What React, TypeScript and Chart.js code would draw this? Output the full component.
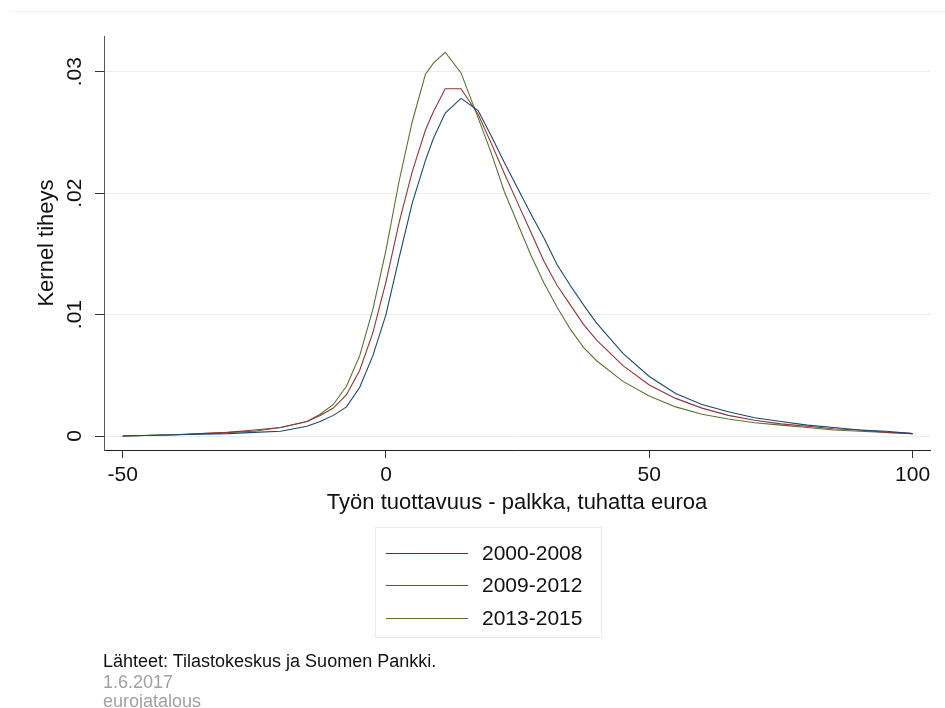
import React, { useEffect, useRef } from "react";
import { Chart, registerables } from "chart.js";

Chart.register(...registerables);

// ---- Data ----
const xValues = [
  -50, -40, -30, -25, -20, -15, -12.5, -10, -7.5, -5, -2.5, 0, 2.5, 5, 7.5, 9, 11.25, 14.25,
  17.5, 20, 22.5, 25, 27.5, 30, 32.5, 35, 37.5, 40, 45, 50, 55, 60, 65, 70, 75, 80, 85, 90, 95, 100,
];

const density2000_2008 = [
  0.0, 0.0001, 0.0002, 0.0003, 0.0004, 0.0008, 0.0012, 0.0017, 0.0024, 0.004, 0.0066, 0.01,
  0.0147, 0.0192, 0.0227, 0.0245, 0.0266, 0.0278, 0.0268, 0.0247, 0.0225, 0.0204, 0.0183,
  0.0163, 0.0141, 0.0124, 0.0108, 0.0093, 0.0068, 0.0049, 0.0035, 0.0026, 0.002, 0.0015,
  0.0012, 0.0009, 0.0007, 0.0005, 0.0004, 0.0002,
];

const density2009_2012 = [
  0.0, 0.0001, 0.0003, 0.0005, 0.0007, 0.0012, 0.0017, 0.0023, 0.0034, 0.0054, 0.0085, 0.0127,
  0.0176, 0.0218, 0.0252, 0.0267, 0.0286, 0.0286, 0.0265, 0.0241, 0.0216, 0.0192, 0.0168,
  0.0144, 0.0124, 0.0108, 0.0092, 0.0079, 0.0058, 0.0042, 0.0031, 0.0023, 0.0017, 0.0013,
  0.001, 0.0008, 0.0006, 0.0005, 0.0003, 0.0002,
];

const density2013_2015 = [
  0.0, 0.0001, 0.0003, 0.0004, 0.0007, 0.0012, 0.0018, 0.0026, 0.0041, 0.0066, 0.0104, 0.0153,
  0.021, 0.0259, 0.0298, 0.0307, 0.0316, 0.0299, 0.0262, 0.0233, 0.0201, 0.0175, 0.0149,
  0.0126, 0.0106, 0.0088, 0.0073, 0.0062, 0.0045, 0.0033, 0.0024, 0.0018, 0.0014, 0.0011,
  0.0009, 0.0007, 0.0005, 0.0004, 0.0003, 0.0002,
];

const seriesLabels = ["2000-2008", "2009-2012", "2013-2015"];
const xTickValues = [-50, 0, 50, 100];
const yTickValues = [0, 0.01, 0.02, 0.03];
const yTickLabels = ["0", ".01", ".02", ".03"];

const xTitle = "Työn tuottavuus - palkka, tuhatta euroa";
const yTitle = "Kernel tiheys";
const footerSource = "Lähteet: Tilastokeskus ja Suomen Pankki.";
const footerDate = "1.6.2017";
const footerSite = "eurojatalous";

// ---- Styles ----
const COLORS = ["#1a476f", "#90353b", "#55752f"];
const FONT = '"Liberation Sans", Arial, sans-serif';
const TEXT = "#111111";

const yLabelPlugin = {
  id: "yRotatedLabels",
  afterDraw(chart: any) {
    const ctx = chart.ctx;
    const s = chart.scales.y;
    ctx.save();
    ctx.font = `21px ${FONT}`;
    ctx.fillStyle = TEXT;
    ctx.textAlign = "center";
    ctx.textBaseline = "middle";
    yTickValues.forEach((v, i) => {
      const py = s.getPixelForValue(v);
      ctx.save();
      ctx.translate(s.right - 29, py);
      ctx.rotate(-Math.PI / 2);
      ctx.fillText(yTickLabels[i], 0, 0);
      ctx.restore();
    });
    ctx.restore();
  },
};

export default function App() {
  const canvasRef = useRef<HTMLCanvasElement | null>(null);

  useEffect(() => {
    if (!canvasRef.current) return;
    const seriesValues = [density2000_2008, density2009_2012, density2013_2015];
    const chart = new Chart(canvasRef.current, {
      type: "line",
      data: {
        datasets: seriesValues.map((vals, i) => ({
          label: seriesLabels[i],
          data: vals.map((y, j) => ({ x: xValues[j], y })),
          borderColor: COLORS[i],
          backgroundColor: COLORS[i],
          borderWidth: 1.1,
          pointRadius: 0,
          tension: 0,
          fill: false,
        })),
      },
      options: {
        animation: false,
        responsive: false,
        maintainAspectRatio: false,
        layout: { padding: { left: 0, top: 36, right: 15, bottom: 188 } },
        plugins: {
          legend: { display: false },
          tooltip: { enabled: false },
        },
        scales: {
          x: {
            type: "linear",
            min: -53.54,
            max: 103.3,
            afterBuildTicks: (s: any) => {
              s.ticks = xTickValues.map((v) => ({ value: v }));
            },
            afterFit: (s: any) => {
              s.height = 70;
            },
            grid: {
              drawOnChartArea: false,
              drawTicks: true,
              tickLength: 8,
              tickColor: "#333333",
            },
            border: { display: true, color: "#222222", width: 1 },
            ticks: {
              font: { size: 21, family: FONT },
              color: TEXT,
              padding: 5,
              maxRotation: 0,
              autoSkip: false,
              callback: (v: any) => String(v),
            },
            title: {
              display: true,
              text: xTitle,
              font: { size: 22, family: FONT },
              color: TEXT,
              padding: { top: 0, bottom: 4 },
            },
          },
          y: {
            type: "linear",
            min: -0.00115,
            max: 0.03294,
            afterBuildTicks: (s: any) => {
              s.ticks = yTickValues.map((v) => ({ value: v }));
            },
            afterFit: (s: any) => {
              s.width = 104;
            },
            grid: {
              color: "#e8eeee",
              lineWidth: 1,
              drawTicks: true,
              tickLength: 9,
              tickColor: "#333333",
            },
            border: { display: true, color: "#555555", width: 1 },
            ticks: { display: false },
            title: {
              display: true,
              text: yTitle,
              font: { size: 22, family: FONT },
              color: TEXT,
              padding: { top: 34, bottom: 0 },
            },
          },
        },
      },
      plugins: [yLabelPlugin],
    });
    return () => chart.destroy();
  }, []);

  const legendRowTops = [25, 57, 90];

  return (
    <div
      style={{
        position: "absolute",
        left: 0,
        top: 0,
        width: 945,
        height: 708,
        background: "#ffffff",
        fontFamily: FONT,
        overflow: "hidden",
      }}
    >
      <div
        style={{
          position: "absolute",
          left: 10,
          top: 11,
          width: 935,
          height: 1,
          background: "#eef3f3",
        }}
      />
      <canvas
        ref={canvasRef}
        width={945}
        height={708}
        style={{ position: "absolute", left: 0, top: 0, width: 945, height: 708 }}
      />
      <div
        style={{
          position: "absolute",
          left: 375,
          top: 527,
          width: 227,
          height: 111,
          border: "1px solid #e6ecec",
          boxSizing: "border-box",
        }}
      >
        {seriesLabels.map((lab, i) => (
          <React.Fragment key={lab}>
            <div
              style={{
                position: "absolute",
                left: 10,
                top: legendRowTops[i],
                width: 82,
                height: 1,
                background: COLORS[i],
              }}
            />
            <div
              style={{
                position: "absolute",
                left: 106,
                top: legendRowTops[i] - 13,
                height: 26,
                lineHeight: "26px",
                fontSize: 21,
                color: TEXT,
                whiteSpace: "nowrap",
              }}
            >
              {lab}
            </div>
          </React.Fragment>
        ))}
      </div>
      <div
        style={{
          position: "absolute",
          left: 103,
          top: 651,
          lineHeight: "20px",
          fontSize: 18,
          color: TEXT,
          whiteSpace: "nowrap",
        }}
      >
        {footerSource}
      </div>
      <div
        style={{
          position: "absolute",
          left: 103,
          top: 672,
          lineHeight: "20px",
          fontSize: 18,
          color: "#a0a0a0",
          whiteSpace: "nowrap",
        }}
      >
        {footerDate}
      </div>
      <div
        style={{
          position: "absolute",
          left: 103,
          top: 691,
          lineHeight: "20px",
          fontSize: 18,
          color: "#a0a0a0",
          whiteSpace: "nowrap",
        }}
      >
        {footerSite}
      </div>
    </div>
  );
}
